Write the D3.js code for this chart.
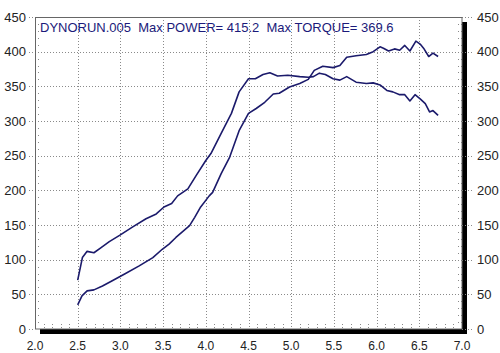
<!DOCTYPE html>
<html>
<head>
<meta charset="utf-8">
<script src="https://cdn.jsdelivr.net/npm/d3@7"></script>
<style>
	body { margin: 0; background: #fff; }
	svg { display: block; font-family: "Liberation Sans", Arial, sans-serif; }
</style>
</head>
<body>
<svg id="chart" width="500" height="353"></svg>
<script>
// rpm in thousands
const torqueRpm = [2.50, 2.555, 2.61, 2.69, 2.77, 2.87, 2.99, 3.14, 3.30, 3.42, 3.51, 3.60, 3.67, 3.79, 3.89, 4.00, 4.06, 4.18, 4.30, 4.39, 4.50, 4.58, 4.67, 4.75, 4.84, 4.96, 5.10, 5.20, 5.26, 5.33, 5.40, 5.49, 5.57, 5.65, 5.76, 5.88, 5.96, 6.04, 6.12, 6.19, 6.27, 6.33, 6.39, 6.45, 6.51, 6.57, 6.62, 6.66, 6.72];
const torque = [70.5, 103, 112, 110, 117, 126, 135, 147, 159, 166, 176, 181, 192, 202, 222, 243, 253, 282, 311, 342, 361, 361, 367, 369.6, 365, 366, 364, 363, 364, 369, 367, 361, 359, 364, 356, 354, 355, 352, 344, 342, 338, 338, 329, 338, 332, 325, 313, 315, 308];

const powerRpm = [2.50, 2.55, 2.61, 2.69, 2.79, 2.91, 3.06, 3.22, 3.38, 3.49, 3.57, 3.65, 3.81, 3.87, 3.94, 4.04, 4.08, 4.18, 4.28, 4.39, 4.50, 4.59, 4.69, 4.79, 4.86, 4.98, 5.10, 5.20, 5.27, 5.37, 5.49, 5.57, 5.65, 5.76, 5.88, 5.96, 6.04, 6.08, 6.14, 6.21, 6.27, 6.33, 6.39, 6.46, 6.51, 6.55, 6.61, 6.66, 6.72];
const power = [34.7, 47.7, 55, 56.4, 62, 70, 80, 91, 103, 115, 122.5, 132, 149, 161, 176, 192, 197, 224, 248, 286, 311, 318, 327, 339, 340, 349, 354, 360, 373, 379, 377, 380, 392, 394, 396, 400, 407, 405, 401, 404, 402, 409, 401, 415.2, 411, 405, 393, 398, 393];

const xTicks = [2.0, 2.5, 3.0, 3.5, 4.0, 4.5, 5.0, 5.5, 6.0, 6.5, 7.0];
const yTicks = [0, 50, 100, 150, 200, 250, 300, 350, 400, 450];
const title = "DYNORUN.005  Max POWER= 415.2  Max TORQUE= 369.6";

const lineColor = "#1b1a6b";
const margin = { left: 35, top: 17 };
const svg = d3.select("#chart");

const x = d3.scaleLinear().domain([2, 7]).range([0, 427]);
const y = d3.scaleLinear().domain([0, 450]).range([312, 0]);

const g = svg.append("g")
	.attr("transform", "translate(" + margin.left + "," + margin.top + ")");

// drop shadow behind the plot frame
g.append("rect")
	.attr("x", 5).attr("y", 5)
	.attr("width", x(7)).attr("height", y(0))
	.attr("fill", "#000");

g.append("rect")
	.attr("x", 0).attr("y", 0)
	.attr("width", x(7)).attr("height", y(0))
	.attr("fill", "#fff");

const dotted = sel => sel
	.attr("stroke", "#8a8a8a")
	.attr("stroke-width", 1)
	.attr("stroke-dasharray", "1,2");

const px = v => Math.round(v) + 0.5;

// grid
g.selectAll(".hgrid").data(yTicks.slice(1, -1)).join("line")
	.attr("class", "hgrid")
	.attr("x1", 0).attr("x2", x(7))
	.attr("y1", d => px(y(d))).attr("y2", d => px(y(d)))
	.call(dotted);

g.selectAll(".vgrid").data(xTicks.slice(1, -1)).join("line")
	.attr("class", "vgrid")
	.attr("y1", 0).attr("y2", y(0))
	.attr("x1", d => px(x(d))).attr("x2", d => px(x(d)))
	.call(dotted);

// minor ticks
const yMinor = d3.range(10, 450, 10).filter(d => d % 50 !== 0);
const xMinor = d3.range(21, 70, 1).map(d => d / 10).filter(d => Math.round(d * 10) % 5 !== 0);

g.selectAll(".ymin-l").data(yMinor).join("line")
	.attr("x1", 0).attr("x2", 4)
	.attr("y1", d => px(y(d))).attr("y2", d => px(y(d)))
	.call(dotted);

g.selectAll(".ymin-r").data(yMinor).join("line")
	.attr("x1", x(7) - 4).attr("x2", x(7))
	.attr("y1", d => px(y(d))).attr("y2", d => px(y(d)))
	.call(dotted);

g.selectAll(".xmin").data(xMinor).join("line")
	.attr("y1", y(0) - 5).attr("y2", y(0))
	.attr("x1", d => px(x(d))).attr("x2", d => px(x(d)))
	.call(dotted);

// outer ticks
g.selectAll(".ytick-l").data(yTicks).join("line")
	.attr("x1", -6).attr("x2", 0)
	.attr("y1", d => px(y(d))).attr("y2", d => px(y(d)))
	.call(dotted);

g.selectAll(".ytick-r").data(yTicks).join("line")
	.attr("x1", x(7)).attr("x2", x(7) + 11)
	.attr("y1", d => px(y(d))).attr("y2", d => px(y(d)))
	.call(dotted);

// frame
g.append("rect")
	.attr("x", 0.5).attr("y", 0.5)
	.attr("width", x(7) - 0.5).attr("height", y(0) - 0.5)
	.attr("fill", "none")
	.attr("stroke", "#666")
	.attr("stroke-width", 1);

// curves
const line = d3.line()
	.x(d => x(d[0]))
	.y(d => y(d[1]));

[d3.zip(torqueRpm, torque), d3.zip(powerRpm, power)].forEach(series => {
	g.append("path")
		.datum(series)
		.attr("d", line)
		.attr("fill", "none")
		.attr("stroke", lineColor)
		.attr("stroke-width", 1.6)
		.attr("stroke-linejoin", "round");
});

// labels
g.selectAll(".ylab-l").data(yTicks).join("text")
	.attr("x", -9)
	.attr("y", d => y(d))
	.attr("dy", "0.36em")
	.attr("text-anchor", "end")
	.attr("font-size", 13)
	.attr("fill", "#222")
	.text(d => d);

g.selectAll(".ylab-r").data(yTicks).join("text")
	.attr("x", x(7) + 15)
	.attr("y", d => y(d))
	.attr("dy", "0.36em")
	.attr("text-anchor", "start")
	.attr("font-size", 13)
	.attr("fill", "#222")
	.text(d => d);

g.selectAll(".xlab").data(xTicks).join("text")
	.attr("x", d => x(d))
	.attr("y", y(0) + 21)
	.attr("text-anchor", "middle")
	.attr("font-size", 12)
	.attr("fill", "#222")
	.text(d => d.toFixed(1));

g.append("text")
	.attr("x", 5)
	.attr("y", 15)
	.attr("font-size", 13)
	.attr("fill", "#1b1a7a")
	.style("white-space", "pre")
	.text(title);
</script>
</body>
</html>
